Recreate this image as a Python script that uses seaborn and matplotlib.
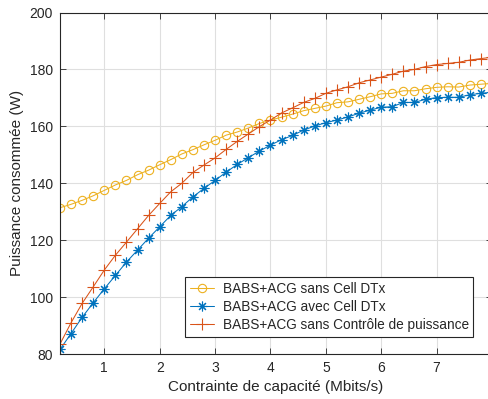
import numpy as np
import pandas as pd
import matplotlib
matplotlib.use("Agg")
import matplotlib.pyplot as plt
import seaborn as sns

# capacity constraint (Mbits/s), step 0.2
capacite = [round(0.2 * i, 1) for i in range(1, 41)]

# BABS+ACG sans Cell DTx
sans_dtx = [131.4, 132.6, 134.0, 135.6, 137.5, 139.4, 141.0, 143.0, 144.6, 146.5,
            148.3, 150.3, 151.8, 153.5, 155.1, 156.9, 158.0, 159.4, 161.0, 162.2,
            163.2, 164.3, 165.5, 166.3, 167.1, 168.3, 168.6, 169.5, 170.4, 171.4,
            171.6, 172.5, 172.5, 173.2, 173.7, 173.9, 173.8, 174.5, 174.8, 175.1]

# BABS+ACG avec Cell DTx
avec_dtx = [81.6, 87.2, 92.9, 98.0, 102.9, 107.6, 112.3, 116.5, 120.7, 124.7,
            128.7, 131.8, 135.2, 138.2, 141.0, 143.9, 146.6, 149.0, 151.3, 153.4,
            155.3, 156.8, 158.7, 160.1, 161.3, 162.2, 163.3, 164.6, 165.7, 166.7,
            166.9, 168.4, 168.4, 169.5, 170.1, 170.2, 170.2, 171.1, 171.6, 172.0]

# BABS+ACG sans Contrôle de puissance
sans_ctrl = [83.5, 91.0, 97.8, 103.6, 109.5, 114.7, 119.3, 124.0, 128.7, 132.9,
             137.0, 140.0, 143.8, 146.4, 148.9, 151.9, 154.7, 157.3, 159.9, 162.2,
             164.7, 166.5, 168.4, 169.8, 171.6, 172.8, 173.9, 175.3, 176.3, 177.3,
             178.3, 179.4, 180.0, 181.0, 181.7, 182.1, 182.5, 183.3, 183.8, 184.3]

labels = ["BABS+ACG sans Cell DTx", "BABS+ACG avec Cell DTx",
          "BABS+ACG sans Contrôle de puissance"]

df = pd.DataFrame({"x": capacite, labels[0]: sans_dtx,
                   labels[1]: avec_dtx, labels[2]: sans_ctrl})

sns.set_style("ticks")
plt.rcParams["font.family"] = ["Liberation Sans", "DejaVu Sans"]
plt.rcParams["xtick.direction"] = "in"
plt.rcParams["ytick.direction"] = "in"

fig = plt.figure(figsize=(4.89, 3.99), dpi=100)
ax = fig.add_axes([60 / 489, 45 / 399, 432 / 489, 341.5 / 399])

# MATLAB default colours
c_yel, c_blu, c_ora = "#EDB120", "#0072BD", "#D95319"

sns.lineplot(ax=ax, data=df, x="x", y=labels[0], color=c_yel, label=labels[0],
             marker="o", markersize=6, markerfacecolor="none", markeredgecolor=c_yel,
             markeredgewidth=0.8, linewidth=0.75)
sns.lineplot(ax=ax, data=df, x="x", y=labels[1], color=c_blu, label=labels[1],
             marker=(8, 2, 0), markersize=7, markeredgecolor=c_blu,
             markeredgewidth=0.8, linewidth=0.75)
sns.lineplot(ax=ax, data=df, x="x", y=labels[2], color=c_ora, label=labels[2],
             marker="+", markersize=8, markeredgecolor=c_ora,
             markeredgewidth=0.8, linewidth=0.75)

ax.set_xlim(0.2, 8)
ax.set_ylim(80, 200)
ax.set_xticks(range(1, 8))
ax.set_yticks(range(80, 201, 20))
ax.grid(True, color="#dfdfdf", linewidth=0.8)
ax.set_axisbelow(True)

for s in ax.spines.values():
    s.set_color("#262626")
    s.set_linewidth(0.8)
ax.tick_params(colors="#262626", labelsize=10, length=4, width=0.6,
               top=True, right=True, pad=5)

ax.set_xlabel("Contrainte de capacité (Mbits/s)", fontsize=11, color="#262626")
ax.set_ylabel("Puissance consommée (W)", fontsize=11, color="#262626")

leg = ax.legend(loc="lower right", bbox_to_anchor=(0.957, 0.05), fontsize=9.8,
                frameon=True, fancybox=False, framealpha=1, edgecolor="#262626",
                handlelength=1.8, handletextpad=0.6, borderpad=0.35,
                labelspacing=0.3, borderaxespad=0)
leg.get_frame().set_linewidth(0.8)

fig.savefig("out.png", dpi=100)
